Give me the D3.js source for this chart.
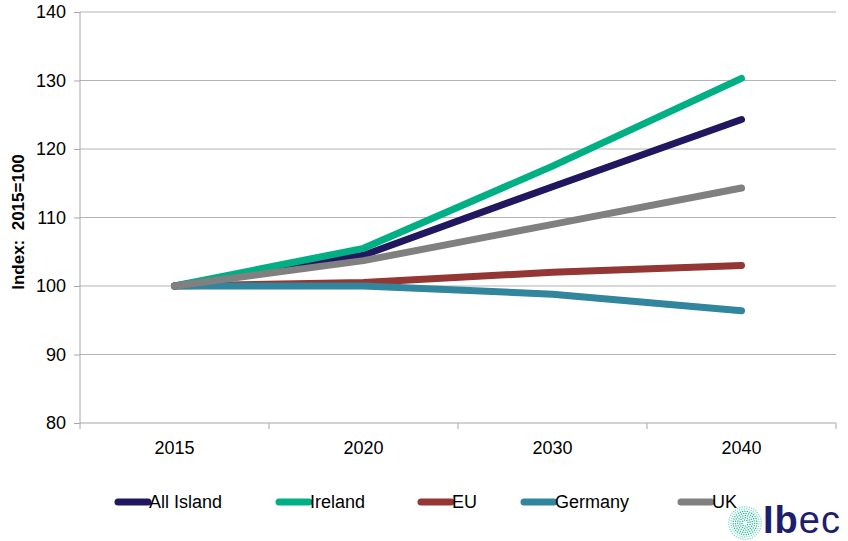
<!DOCTYPE html>
<html><head><meta charset="utf-8">
<script src="https://cdn.jsdelivr.net/npm/d3@7"></script>
<style>body{margin:0;background:#fff}svg{display:block;font-family:Arial,"Liberation Sans",sans-serif}</style>
</head><body>
<svg id="c" width="848" height="541"></svg>
<script>
const categories = ["2015","2020","2030","2040"];
const allIsland = [100, 104.5, 114.5, 124.3];
const ireland   = [100, 105.5, 117.5, 130.3];
const eu        = [100, 100.5, 102.0, 103.0];
const germany   = [100, 100.0, 98.8, 96.4];
const uk        = [100, 103.7, 109.0, 114.3];
const yTicks = [80, 90, 100, 110, 120, 130, 140];
const seriesNames = ["All Island","Ireland","EU","Germany","UK"];
const seriesColors = ["#211761","#00b084","#943634","#31859c","#808080"];
const seriesValues = [allIsland, ireland, eu, germany, uk];

const svg = d3.select("#c");
const L = 80, R = 836, T = 12, B = 423;
const x = d3.scaleBand().domain(categories).range([L, R]);
const y = d3.scaleLinear().domain([80, 140]).range([B, T]);

// gridlines
svg.append("g").selectAll("line").data(yTicks.filter(d => d > 80)).join("line")
  .attr("x1", L).attr("x2", R).attr("y1", d => y(d)).attr("y2", d => y(d))
  .attr("stroke", "#b3b3b3").attr("stroke-width", 1);

// y axis
const ya = svg.append("g").attr("transform", `translate(${L},0)`)
  .call(d3.axisLeft(y).tickValues(yTicks).tickSize(6).tickPadding(8));
ya.selectAll("path,line").attr("stroke", "#a6a6a6");
ya.select(".domain").attr("d", `M0,${T}V${B}`);
ya.selectAll("text").attr("font-size", 18).attr("fill", "#000").attr("font-family", "Arial, Liberation Sans, sans-serif");

// x axis
const xa = svg.append("g").attr("transform", `translate(0,${B})`);
xa.append("line").attr("x1", L).attr("x2", R).attr("stroke", "#a6a6a6");
const bounds = categories.map(c => x(c)).concat([R]);
xa.selectAll("line.t").data(bounds).join("line").attr("class","t")
  .attr("x1", d => d).attr("x2", d => d).attr("y1", 0).attr("y2", 6).attr("stroke", "#a6a6a6");
xa.selectAll("text").data(categories).join("text")
  .attr("x", d => x(d) + x.bandwidth()/2).attr("y", 31)
  .attr("text-anchor", "middle").attr("font-size", 18).text(d => d);

// y title
svg.append("text").attr("transform", `translate(24,${222}) rotate(-90)`)
  .attr("text-anchor", "middle").attr("font-size", 17).attr("font-weight", "bold")
  .attr("xml:space", "preserve").text("Index:  2015=100");

// lines
const line = d3.line().x((d, i) => x(categories[i]) + x.bandwidth()/2).y(d => y(d));
svg.append("g").selectAll("path").data(seriesValues).join("path")
  .attr("d", d => line(d)).attr("fill", "none")
  .attr("stroke", (d, i) => seriesColors[i]).attr("stroke-width", 7)
  .attr("stroke-linecap", "round").attr("stroke-linejoin", "round");

// legend
const legX = [118, 279, 421, 524, 681];
const lg = svg.append("g");
seriesNames.forEach((n, i) => {
  lg.append("line").attr("x1", legX[i]).attr("x2", legX[i] + 30).attr("y1", 502).attr("y2", 502)
    .attr("stroke", seriesColors[i]).attr("stroke-width", 7).attr("stroke-linecap", "round");
  lg.append("text").attr("x", legX[i] + 31).attr("y", 508).attr("font-size", 18).text(n);
});

// logo
const logo = svg.append("g");
const cx = 745, cy = 523;
for (let r = 3; r <= 17; r += 2.2) {
  const n = Math.round(2 * Math.PI * r / 2.4);
  for (let k = 0; k < n; k++) {
    const a = k / n * 2 * Math.PI + r;
    logo.append("circle").attr("cx", cx + r * Math.cos(a)).attr("cy", cy + r * Math.sin(a))
      .attr("r", 0.75).attr("fill", r > 12 ? "#7fd9c4" : "#1fb394");
  }
}
const lt = logo.append("text").attr("x", 763).attr("y", 533).attr("font-size", 38)
  .attr("letter-spacing", 1).attr("fill", "#1e1e6e");
lt.append("tspan").attr("font-weight", "bold").text("Ib");
lt.append("tspan").attr("font-weight", "normal").text("ec");
</script>
</body></html>
